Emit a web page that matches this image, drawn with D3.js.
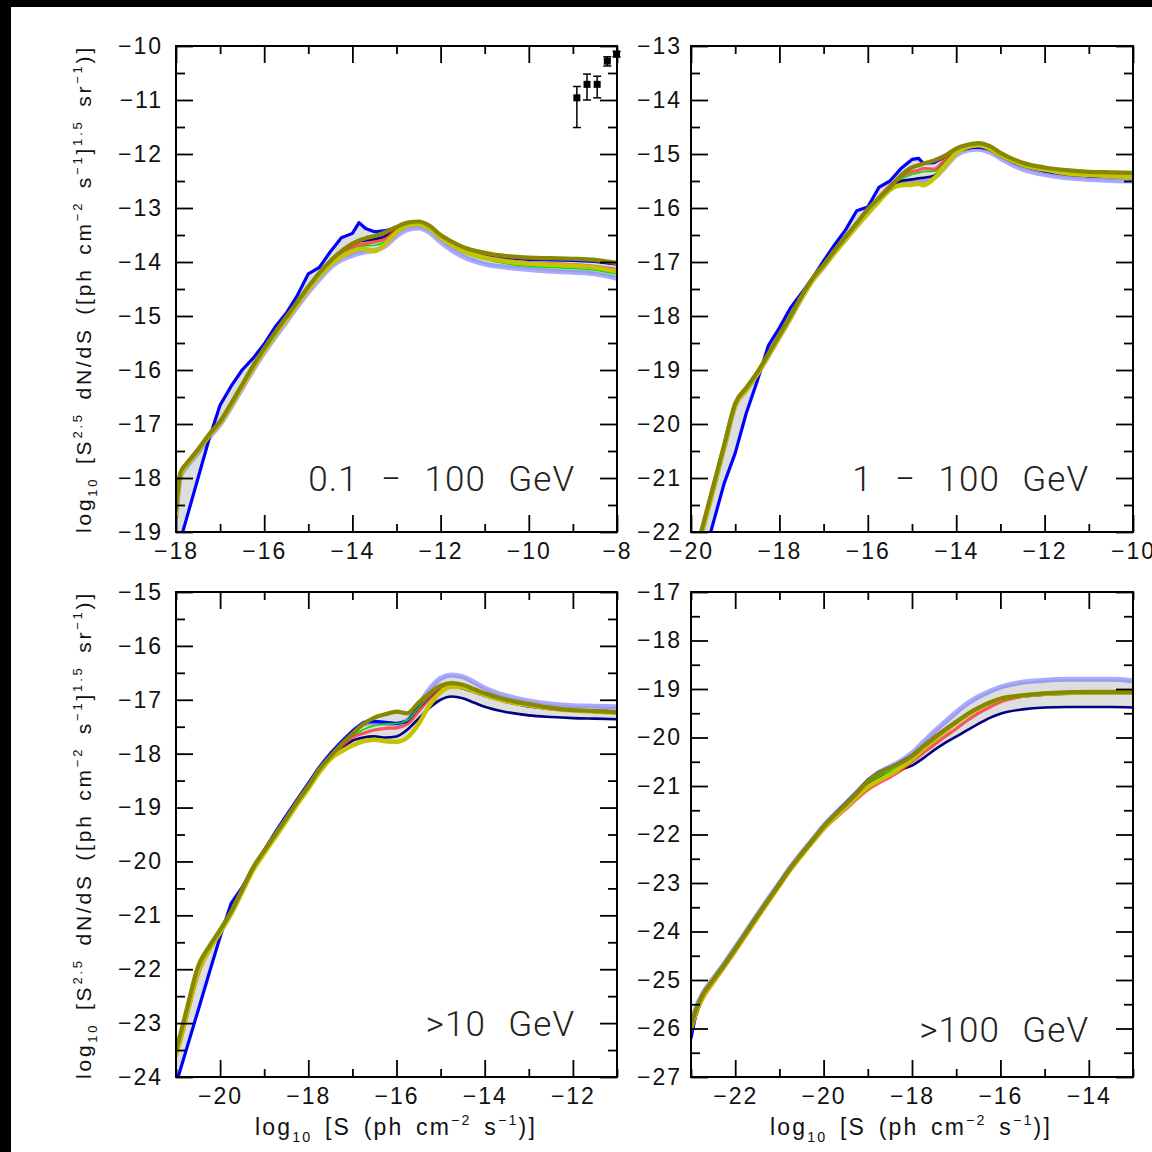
<!DOCTYPE html>
<html><head><meta charset="utf-8">
<script src="https://cdn.jsdelivr.net/npm/d3@7"></script>
<style>html,body{margin:0;padding:0;background:#000;} svg{display:block} text{white-space:pre}</style>
</head><body><svg id="c" width="1152" height="1152"></svg>
<script>
// ---------------- DATA ----------------
// Panel 1: 0.1 - 100 GeV
const TL_x = [-18, -17.9, -17.75, -17.5, -17.25, -17, -16.75, -16.5, -16.25, -16, -15.75, -15.5, -15.25, -15, -14.75, -14.5, -14.25, -14, -13.85, -13.7, -13.5, -13.25, -13, -12.75, -12.5, -12.25, -12, -11.75, -11.5, -11, -10.5, -10, -9.5, -9, -8.5, -8];
const TL_olive = [-18.6, -17.9, -17.72, -17.47, -17.19, -16.95, -16.62, -16.27, -15.92, -15.6, -15.3, -15.02, -14.74, -14.46, -14.2, -13.98, -13.8, -13.66, -13.6, -13.56, -13.52, -13.45, -13.35, -13.27, -13.25, -13.33, -13.5, -13.62, -13.72, -13.83, -13.89, -13.92, -13.93, -13.94, -13.96, -14.02];
const TL_yellow = [-18.7, -17.95, -17.75, -17.5, -17.22, -16.98, -16.66, -16.31, -15.97, -15.65, -15.35, -15.07, -14.79, -14.51, -14.26, -14.05, -13.9, -13.8, -13.76, -13.76, -13.8, -13.66, -13.45, -13.32, -13.3, -13.38, -13.55, -13.68, -13.79, -13.92, -13.99, -14.03, -14.05, -14.07, -14.1, -14.17];
const TL_red = [-18.65, -17.93, -17.74, -17.49, -17.21, -16.97, -16.64, -16.29, -15.94, -15.62, -15.32, -15.04, -14.76, -14.48, -14.23, -14.02, -13.85, -13.72, -13.68, -13.66, -13.63, -13.57, -13.4, -13.3, -13.28, -13.37, -13.54, -13.67, -13.78, -13.9, -13.97, -14.01, -14.03, -14.05, -14.08, -14.14];
const TL_green = [-18.66, -17.93, -17.74, -17.49, -17.21, -16.97, -16.64, -16.29, -15.94, -15.62, -15.33, -15.05, -14.77, -14.5, -14.25, -14.05, -13.88, -13.76, -13.72, -13.7, -13.69, -13.62, -13.44, -13.32, -13.3, -13.39, -13.57, -13.7, -13.82, -13.95, -14.03, -14.08, -14.1, -14.12, -14.15, -14.22];
const TL_navy = [-18.64, -17.92, -17.73, -17.48, -17.2, -16.96, -16.63, -16.28, -15.93, -15.61, -15.31, -15.03, -14.75, -14.47, -14.21, -14.0, -13.82, -13.68, -13.62, -13.6, -13.58, -13.52, -13.38, -13.29, -13.27, -13.34, -13.5, -13.62, -13.72, -13.83, -13.89, -13.93, -13.94, -13.95, -13.97, -14.02];
const TL_lightblue = [-18.72, -17.97, -17.78, -17.53, -17.25, -17.01, -16.69, -16.34, -16.0, -15.68, -15.39, -15.11, -14.83, -14.56, -14.32, -14.1, -13.96, -13.88, -13.84, -13.81, -13.79, -13.7, -13.52, -13.4, -13.37, -13.45, -13.63, -13.78, -13.9, -14.04, -14.1, -14.14, -14.17, -14.19, -14.22, -14.3];
const TL_blue = [-19.45, -19.15, -18.72, -18.0, -17.28, -16.65, -16.3, -16.0, -15.78, -15.52, -15.2, -14.95, -14.62, -14.22, -14.1, -13.81, -13.55, -13.47, -13.27, -13.38, -13.44, -13.42, -13.36, -13.29, -13.27, -13.35, -13.52, -13.64, -13.74, -13.86, -13.92, -13.95, -13.96, -13.97, -13.99, -14.04];
// measured points with error bars (panel 1)
const PT_x = [-8.91, -8.68, -8.45, -8.22, -8.01];
const PT_y = [-10.96, -10.71, -10.71, -10.28, -10.15];
const PT_lo = [-11.51, -11.0, -10.96, -10.37, -10.2];
const PT_hi = [-10.75, -10.52, -10.56, -10.2, -10.1];

// Panel 2: 1 - 100 GeV
const TR_x = [-20, -19.75, -19.5, -19.25, -19, -18.75, -18.5, -18.25, -18, -17.75, -17.5, -17.25, -17, -16.75, -16.5, -16.25, -16, -15.75, -15.5, -15.25, -15, -14.85, -14.75, -14.5, -14.25, -14, -13.75, -13.5, -13.25, -13, -12.75, -12.5, -12, -11.5, -11, -10.5, -10];
const TR_olive = [-22.7, -21.93, -21.16, -20.39, -19.62, -19.33, -19.04, -18.7, -18.35, -18.0, -17.63, -17.3, -17.05, -16.78, -16.53, -16.28, -16.02, -15.82, -15.62, -15.4, -15.25, -15.21, -15.18, -15.12, -15.03, -14.9, -14.83, -14.8, -14.85, -14.98, -15.08, -15.16, -15.25, -15.3, -15.33, -15.34, -15.35];
const TR_yellow = [-22.8, -22.0, -21.22, -20.44, -19.66, -19.37, -19.08, -18.74, -18.39, -18.04, -17.67, -17.34, -17.09, -16.83, -16.58, -16.34, -16.1, -15.88, -15.66, -15.58, -15.57, -15.55, -15.58, -15.45, -15.22, -14.98, -14.87, -14.84, -14.9, -15.02, -15.12, -15.2, -15.29, -15.36, -15.39, -15.41, -15.42];
const TR_red = [-22.75, -21.96, -21.19, -20.42, -19.64, -19.35, -19.06, -18.72, -18.37, -18.02, -17.65, -17.32, -17.07, -16.8, -16.55, -16.3, -16.05, -15.8, -15.58, -15.42, -15.33, -15.3, -15.27, -15.28, -15.1, -14.92, -14.86, -14.84, -14.88, -15.0, -15.1, -15.18, -15.27, -15.33, -15.36, -15.37, -15.38];
const TR_green = [-22.76, -21.97, -21.2, -20.43, -19.65, -19.36, -19.07, -18.73, -18.38, -18.03, -17.66, -17.33, -17.08, -16.81, -16.56, -16.32, -16.07, -15.83, -15.62, -15.46, -15.38, -15.35, -15.33, -15.32, -15.13, -14.94, -14.87, -14.85, -14.9, -15.02, -15.12, -15.2, -15.29, -15.35, -15.38, -15.39, -15.4];
const TR_navy = [-22.75, -21.96, -21.19, -20.42, -19.64, -19.35, -19.06, -18.72, -18.37, -18.02, -17.65, -17.32, -17.07, -16.8, -16.55, -16.3, -16.06, -15.82, -15.62, -15.5, -15.47, -15.45, -15.44, -15.4, -15.2, -14.98, -14.9, -14.88, -14.92, -15.04, -15.14, -15.22, -15.32, -15.38, -15.41, -15.42, -15.43];
const TR_lightblue = [-22.8, -22.0, -21.22, -20.44, -19.66, -19.37, -19.08, -18.74, -18.39, -18.04, -17.67, -17.34, -17.09, -16.82, -16.58, -16.33, -16.1, -15.86, -15.66, -15.54, -15.52, -15.5, -15.49, -15.44, -15.24, -15.02, -14.93, -14.91, -14.96, -15.08, -15.19, -15.28, -15.38, -15.44, -15.47, -15.49, -15.5];
const TR_blue = [-23.5, -22.6, -21.84, -21.1, -20.54, -19.8, -19.2, -18.55, -18.22, -17.85, -17.58, -17.3, -16.98, -16.68, -16.4, -16.05, -15.98, -15.62, -15.5, -15.27, -15.1, -15.08, -15.17, -15.16, -15.05, -14.95, -14.88, -14.87, -14.91, -15.03, -15.13, -15.21, -15.31, -15.37, -15.4, -15.42, -15.44];

// Panel 3: >10 GeV
const BL_x = [-21, -20.9, -20.75, -20.5, -20.25, -20, -19.75, -19.5, -19.25, -19, -18.75, -18.5, -18.25, -18, -17.75, -17.5, -17.25, -17, -16.75, -16.5, -16.25, -16, -15.75, -15.5, -15.25, -15, -14.75, -14.5, -14.25, -14, -13.5, -13, -12.5, -12, -11.5, -11];
const BL_olive = [-23.5, -23.2, -22.72, -21.95, -21.58, -21.27, -20.93, -20.52, -20.11, -19.8, -19.5, -19.2, -18.89, -18.6, -18.29, -18.05, -17.83, -17.63, -17.45, -17.33, -17.27, -17.22, -17.25, -17.05, -16.88, -16.74, -16.69, -16.72, -16.8, -16.88, -17.0, -17.08, -17.15, -17.19, -17.21, -17.23];
const BL_yellow = [-23.6, -23.3, -22.82, -22.05, -21.65, -21.32, -20.98, -20.57, -20.16, -19.85, -19.55, -19.25, -18.94, -18.65, -18.35, -18.1, -17.96, -17.85, -17.77, -17.74, -17.77, -17.78, -17.7, -17.45, -17.1, -16.86, -16.76, -16.77, -16.84, -16.91, -17.03, -17.1, -17.16, -17.2, -17.22, -17.24];
const BL_red = [-23.55, -23.3, -22.85, -22.1, -21.65, -21.3, -20.96, -20.55, -20.13, -19.82, -19.52, -19.22, -18.91, -18.62, -18.31, -18.07, -17.88, -17.7, -17.62, -17.56, -17.53, -17.52, -17.45, -17.22, -16.98, -16.8, -16.74, -16.76, -16.83, -16.9, -17.02, -17.1, -17.16, -17.19, -17.21, -17.22];
const BL_green = [-23.55, -23.28, -22.8, -22.05, -21.63, -21.3, -20.95, -20.54, -20.13, -19.82, -19.52, -19.22, -18.91, -18.62, -18.31, -18.07, -17.86, -17.67, -17.55, -17.48, -17.45, -17.44, -17.38, -17.15, -16.93, -16.78, -16.75, -16.78, -16.85, -16.92, -17.04, -17.12, -17.17, -17.2, -17.21, -17.21];
const BL_navy = [-23.55, -23.28, -22.8, -22.05, -21.63, -21.3, -20.95, -20.54, -20.13, -19.82, -19.52, -19.22, -18.91, -18.62, -18.32, -18.1, -17.9, -17.76, -17.7, -17.68, -17.7, -17.68, -17.55, -17.35, -17.15, -17.0, -16.94, -16.97, -17.05, -17.13, -17.23, -17.29, -17.32, -17.34, -17.35, -17.36];
const BL_lightblue = [-23.55, -23.28, -22.8, -22.05, -21.63, -21.3, -20.95, -20.54, -20.13, -19.82, -19.52, -19.22, -18.9, -18.6, -18.28, -18.02, -17.8, -17.6, -17.45, -17.42, -17.44, -17.45, -17.38, -17.1, -16.8, -16.6, -16.54, -16.57, -16.67, -16.78, -16.93, -17.02, -17.08, -17.11, -17.12, -17.13];
const BL_blue = [-24.13, -23.86, -23.45, -22.77, -22.08, -21.4, -20.78, -20.48, -20.13, -19.8, -19.46, -19.15, -18.85, -18.55, -18.25, -18.0, -17.78, -17.58, -17.42, -17.4, -17.42, -17.44, -17.4, -17.15, -16.95, -16.8, -16.75, -16.78, -16.85, -16.92, -17.04, -17.12, -17.17, -17.2, -17.21, -17.22];

// Panel 4: >100 GeV
const BR_x = [-23, -22.9, -22.75, -22.5, -22.25, -22, -21.75, -21.5, -21.25, -21, -20.75, -20.5, -20.25, -20, -19.75, -19.5, -19.25, -19, -18.75, -18.5, -18.25, -18, -17.75, -17.5, -17.25, -17, -16.75, -16.5, -16.25, -16, -15.5, -15, -14.5, -14, -13.5, -13];
const BR_olive = [-25.95, -25.65, -25.33, -25.0, -24.69, -24.36, -24.02, -23.68, -23.35, -23.02, -22.69, -22.4, -22.12, -21.84, -21.6, -21.38, -21.15, -20.9, -20.74, -20.63, -20.52, -20.38, -20.19, -20.01, -19.84, -19.68, -19.52, -19.39, -19.28, -19.2, -19.13, -19.09, -19.07, -19.06, -19.06, -19.06];
const BR_yellow = [-26.0, -25.7, -25.38, -25.04, -24.72, -24.39, -24.05, -23.71, -23.38, -23.05, -22.72, -22.43, -22.15, -21.88, -21.65, -21.44, -21.22, -21.02, -20.88, -20.76, -20.62, -20.45, -20.24, -20.05, -19.87, -19.7, -19.54, -19.4, -19.29, -19.21, -19.14, -19.1, -19.08, -19.07, -19.07, -19.07];
const BR_red = [-26.05, -25.75, -25.42, -25.07, -24.75, -24.42, -24.08, -23.74, -23.4, -23.07, -22.74, -22.45, -22.17, -21.9, -21.68, -21.48, -21.27, -21.08, -20.94, -20.82, -20.68, -20.5, -20.32, -20.15, -19.98, -19.82, -19.65, -19.5, -19.38, -19.27, -19.15, -19.1, -19.08, -19.07, -19.07, -19.08];
const BR_green = [-25.98, -25.68, -25.35, -25.02, -24.7, -24.37, -24.03, -23.69, -23.36, -23.03, -22.7, -22.41, -22.13, -21.85, -21.61, -21.4, -21.18, -20.94, -20.8, -20.7, -20.58, -20.43, -20.23, -20.04, -19.87, -19.71, -19.55, -19.42, -19.31, -19.23, -19.15, -19.11, -19.09, -19.08, -19.08, -19.09];
const BR_navy = [-26.1, -25.75, -25.4, -25.05, -24.73, -24.4, -24.06, -23.72, -23.38, -23.05, -22.72, -22.43, -22.15, -21.88, -21.64, -21.42, -21.2, -20.98, -20.84, -20.72, -20.66, -20.58, -20.43, -20.26, -20.11, -19.98, -19.85, -19.72, -19.6, -19.51, -19.42, -19.38, -19.37, -19.37, -19.37, -19.38];
const BR_lightblue = [-25.9, -25.6, -25.3, -24.97, -24.66, -24.33, -23.99, -23.65, -23.32, -23.0, -22.67, -22.38, -22.1, -21.82, -21.58, -21.36, -21.13, -20.9, -20.72, -20.6, -20.48, -20.32, -20.1, -19.88, -19.68, -19.48, -19.3, -19.16, -19.05, -18.96, -18.86, -18.82, -18.8, -18.8, -18.8, -18.83];
const BR_blue = [-26.2, -25.75, -25.36, -25.0, -24.68, -24.35, -24.01, -23.67, -23.34, -23.01, -22.68, -22.39, -22.11, -21.83, -21.59, -21.36, -21.13, -20.88, -20.72, -20.62, -20.51, -20.37, -20.18, -20.0, -19.83, -19.67, -19.52, -19.4, -19.3, -19.22, -19.15, -19.11, -19.09, -19.08, -19.08, -19.08];

// axis ranges / tick labels
const TL_xTicks = [-18, -16, -14, -12, -10, -8];
const TR_xTicks = [-20, -18, -16, -14, -12, -10];
const BL_xTicks = [-20, -18, -16, -14, -12];
const BR_xTicks = [-22, -20, -18, -16, -14];
const TL_yTicks = [-10, -11, -12, -13, -14, -15, -16, -17, -18, -19];
const TR_yTicks = [-13, -14, -15, -16, -17, -18, -19, -20, -21, -22];
const BL_yTicks = [-15, -16, -17, -18, -19, -20, -21, -22, -23, -24];
const BR_yTicks = [-17, -18, -19, -20, -21, -22, -23, -24, -25, -26, -27];
const panelLabels = ["0.1 \u2212 100 GeV", "1 \u2212 100 GeV", ">10 GeV", ">100 GeV"];

// ---------------- DRAW ----------------
const svg = d3.select('#c');
svg.append('rect').attr('x', 11).attr('y', 7).attr('width', 1141).attr('height', 1145).attr('fill', '#fff');

const SERIES = [
  {key: 'lightblue', color: 'rgba(100,100,255,0.55)', w: 5, linear: false},
  {key: 'navy', color: '#000080', w: 2.6, linear: false},
  {key: 'blue', color: '#0000ff', w: 3.2, linear: true},
  {key: 'green', color: '#00e000', w: 1.6, linear: false},
  {key: 'red', color: 'rgba(255,40,40,0.75)', w: 3.2, linear: false},
  {key: 'yellow', color: '#c4c400', w: 4.5, linear: false},
  {key: 'olive', color: '#878700', w: 4.2, linear: false}
];

const panels = [
  {left: 176, top: 46, w: 441, h: 486, xd: [-18, -8], yd: [-19, -10], xs: TL_x,
   s: {olive: TL_olive, yellow: TL_yellow, red: TL_red, green: TL_green, navy: TL_navy, lightblue: TL_lightblue, blue: TL_blue},
   xt: TL_xTicks, yt: TL_yTicks, label: panelLabels[0], lx: 575, ly: 491, pts: true},
  {left: 691, top: 46, w: 442, h: 486, xd: [-20, -10], yd: [-22, -13], xs: TR_x,
   s: {olive: TR_olive, yellow: TR_yellow, red: TR_red, green: TR_green, navy: TR_navy, lightblue: TR_lightblue, blue: TR_blue},
   xt: TR_xTicks, yt: TR_yTicks, label: panelLabels[1], lx: 1089, ly: 491},
  {left: 176, top: 592, w: 441, h: 485, xd: [-21, -11], yd: [-24, -15], xs: BL_x,
   s: {olive: BL_olive, yellow: BL_yellow, red: BL_red, green: BL_green, navy: BL_navy, lightblue: BL_lightblue, blue: BL_blue},
   xt: BL_xTicks, yt: BL_yTicks, label: panelLabels[2], lx: 575, ly: 1036},
  {left: 691, top: 592, w: 442, h: 485, xd: [-23, -13], yd: [-27, -17], xs: BR_x,
   s: {olive: BR_olive, yellow: BR_yellow, red: BR_red, green: BR_green, navy: BR_navy, lightblue: BR_lightblue, blue: BR_blue},
   xt: BR_xTicks, yt: BR_yTicks, label: panelLabels[3], lx: 1089, ly: 1042}
];

const TICKFONT = "'Liberation Sans', Arial, sans-serif";
const fmt = d3.format('d');

panels.forEach((p, i) => {
  const g = svg.append('g').attr('transform', `translate(${p.left},${p.top})`);
  const x = d3.scaleLinear().domain(p.xd).range([0, p.w]);
  const y = d3.scaleLinear().domain(p.yd).range([p.h, 0]);
  const cid = 'clip' + i;
  g.append('clipPath').attr('id', cid).append('rect').attr('width', p.w).attr('height', p.h);
  const plot = g.append('g').attr('clip-path', `url(#${cid})`);

  // grey envelope band between the min and max of all curves
  const keys = SERIES.map(s => s.key);
  const band = p.xs.map((xv, j) => ({x: xv, lo: d3.min(keys, k => p.s[k][j]), hi: d3.max(keys, k => p.s[k][j])}));
  plot.append('path').datum(band)
    .attr('fill', '#dedede')
    .attr('d', d3.area().x(d => x(d.x)).y0(d => y(d.lo)).y1(d => y(d.hi)).curve(d3.curveMonotoneX));

  SERIES.forEach(s => {
    const vals = p.s[s.key];
    plot.append('path').datum(p.xs.map((xv, j) => [xv, vals[j]]))
      .attr('fill', 'none').attr('stroke', s.color).attr('stroke-width', s.w)
      .attr('stroke-linejoin', 'round').attr('stroke-linecap', 'round')
      .attr('d', d3.line().x(d => x(d[0])).y(d => y(d[1])).curve(s.linear ? d3.curveLinear : d3.curveMonotoneX));
  });

  // axes
  const xMaj = d3.range(Math.ceil(p.xd[0]), p.xd[1] + 0.001, 1).filter(v => Math.abs(v % 2) < 1e-9);
  const xMin = d3.range(Math.ceil(p.xd[0]), p.xd[1] + 0.001, 1).filter(v => Math.abs(v % 2) > 1e-9);
  const yMaj = d3.range(p.yd[0], p.yd[1] + 0.001, 1);
  const yMin = d3.range(p.yd[0] + 0.5, p.yd[1], 1);

  const styleAxis = a => {
    a.select('.domain').remove();
    a.selectAll('line').attr('stroke', '#000').attr('stroke-width', 1.8);
    a.selectAll('text').attr('font-family', TICKFONT).attr('font-size', 23).attr('fill', '#111').attr('letter-spacing', 2);
  };
  // bottom
  g.append('g').attr('transform', `translate(0,${p.h})`)
    .call(d3.axisBottom(x).tickValues(xMaj).tickSizeInner(-17).tickSizeOuter(0).tickPadding(11).tickFormat(d => p.xt.includes(d) ? fmt(d) : ''))
    .call(styleAxis);
  g.append('g').attr('transform', `translate(0,${p.h})`)
    .call(d3.axisBottom(x).tickValues(xMin).tickSizeInner(-8).tickSizeOuter(0).tickFormat(''))
    .call(styleAxis);
  // top
  g.append('g').call(d3.axisTop(x).tickValues(xMaj).tickSizeInner(-17).tickSizeOuter(0).tickFormat('')).call(styleAxis);
  g.append('g').call(d3.axisTop(x).tickValues(xMin).tickSizeInner(-8).tickSizeOuter(0).tickFormat('')).call(styleAxis);
  // left
  g.append('g').call(d3.axisLeft(y).tickValues(yMaj).tickSizeInner(-17).tickSizeOuter(0).tickPadding(i % 2 ? 9 : 13).tickFormat(d => p.yt.includes(d) ? fmt(d) : '')).call(styleAxis);
  g.append('g').call(d3.axisLeft(y).tickValues(yMin).tickSizeInner(-9).tickSizeOuter(0).tickFormat('')).call(styleAxis);
  // right
  g.append('g').attr('transform', `translate(${p.w},0)`).call(d3.axisRight(y).tickValues(yMaj).tickSizeInner(-17).tickSizeOuter(0).tickFormat('')).call(styleAxis);
  g.append('g').attr('transform', `translate(${p.w},0)`).call(d3.axisRight(y).tickValues(yMin).tickSizeInner(-9).tickSizeOuter(0).tickFormat('')).call(styleAxis);

  // frame
  g.append('rect').attr('width', p.w).attr('height', p.h).attr('fill', 'none').attr('stroke', '#000').attr('stroke-width', 2);

  // measured points
  if (p.pts) {
    const pg = g.append('g');
    PT_x.forEach((xv, j) => {
      const cx = x(xv);
      pg.append('line').attr('x1', cx).attr('x2', cx).attr('y1', y(PT_lo[j])).attr('y2', y(PT_hi[j])).attr('stroke', '#000').attr('stroke-width', 1.5);
      [PT_lo[j], PT_hi[j]].forEach(v => pg.append('line').attr('x1', cx - 4).attr('x2', cx + 4).attr('y1', y(v)).attr('y2', y(v)).attr('stroke', '#000').attr('stroke-width', 1.5));
      pg.append('rect').attr('x', cx - 3.5).attr('y', y(PT_y[j]) - 3.5).attr('width', 7).attr('height', 7).attr('fill', '#000');
    });
  }

  // panel label (right aligned as in the reference)
  svg.append('text').attr('x', p.lx).attr('y', p.ly).text(p.label).attr('text-anchor', 'end')
    .attr('font-family', "Roboto, 'Open Sans', sans-serif").attr('font-weight', 300)
    .attr('font-size', 35).attr('letter-spacing', 1).attr('word-spacing', 13).attr('fill', '#222');
});

// rich text helper
function rich(t, parts, fs) {
  let cur = 0;
  parts.forEach(([s, m]) => {
    const target = m === 'sup' ? -fs * 0.42 : m === 'sub' ? fs * 0.3 : 0;
    const ts = t.append('tspan').text(s).attr('dy', target - cur);
    if (m !== 'n') ts.attr('font-size', fs * 0.62);
    cur = target;
  });
}
// spread letters so the title covers the same length as in the reference
function fitWidth(t, target) {
  t.attr('word-spacing', 4);
  const node = t.node();
  const len = node.getComputedTextLength();
  const n = node.textContent.length;
  if (n > 1 && target > len) t.attr('letter-spacing', (target - len) / n);
}

const yTitleParts = [['log', 'n'], ['10', 'sub'], [' [S', 'n'], ['2.5', 'sup'], [' dN/dS ([ph cm', 'n'], ['\u22122', 'sup'], [' s', 'n'], ['\u22121', 'sup'], [']', 'n'], ['1.5', 'sup'], [' sr', 'n'], ['\u22121', 'sup'], [')]', 'n']];
const xTitleParts = [['log', 'n'], ['10', 'sub'], [' [S (ph cm', 'n'], ['\u22122', 'sup'], [' s', 'n'], ['\u22121', 'sup'], [')]', 'n']];

[289, 835].forEach(cy => {
  const t = svg.append('text').attr('transform', `translate(91,${cy}) rotate(-90)`).attr('text-anchor', 'middle')
    .attr('font-family', TICKFONT).attr('font-size', 21).attr('fill', '#111');
  rich(t, yTitleParts, 21);
  fitWidth(t, 488);
});
[396, 911].forEach(cx => {
  const t = svg.append('text').attr('x', cx).attr('y', 1135).attr('text-anchor', 'middle')
    .attr('font-family', TICKFONT).attr('font-size', 23).attr('fill', '#111');
  rich(t, xTitleParts, 23);
  fitWidth(t, 282);
});
</script></body></html>
